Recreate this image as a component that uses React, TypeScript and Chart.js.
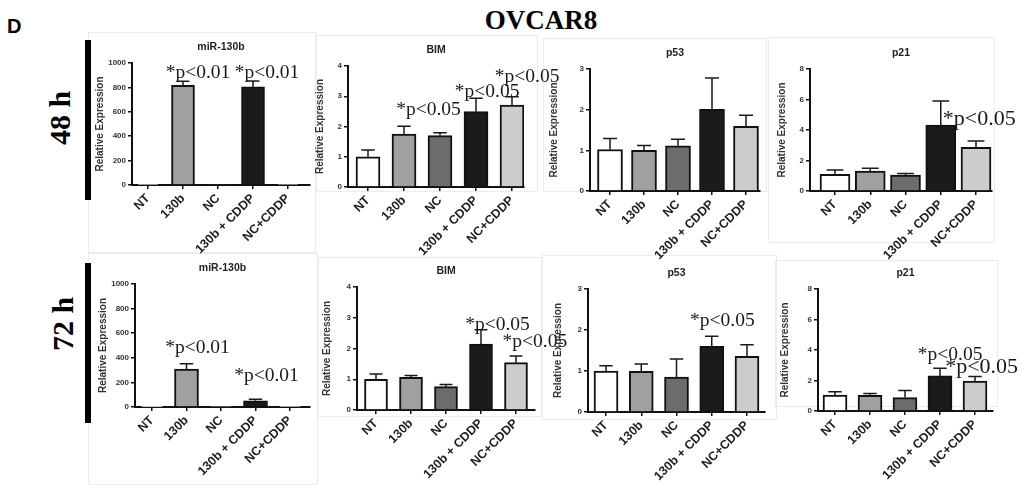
import React, { useEffect, useRef } from 'react';
import { Chart, registerables } from 'chart.js';

Chart.register(...registerables);

// ---------------- data ----------------
const categories = ['NT', '130b', 'NC', '130b + CDDP', 'NC+CDDP'];
const yAxisLabel = 'Relative Expression';
const figureLetter = 'D';
const figureTitle = 'OVCAR8';
const rowLabels = ['48 h', '72 h'];
const panelTitles = ['miR-130b', 'BIM', 'p53', 'p21', 'miR-130b', 'BIM', 'p53', 'p21'];

// 48 h
const mir48 = [2, 817, 6, 804, 2];
const mir48Err = [0, 33, 0, 49, 0];
const bim48 = [1.0, 1.75, 1.7, 2.49, 2.71];
const bim48Err = [0.22, 0.26, 0.09, 0.44, 0.27];
const p53h48 = [1.02, 1.0, 1.11, 2.01, 1.59];
const p53h48Err = [0.27, 0.12, 0.16, 0.77, 0.27];
const p21h48 = [1.09, 1.31, 1.05, 4.33, 2.86];
const p21h48Err = [0.29, 0.18, 0.09, 1.57, 0.42];
// 72 h
const mir72 = [1, 309, 1, 51, 1];
const mir72Err = [0, 43, 0, 11, 0];
const bim72 = [1.0, 1.06, 0.76, 2.14, 1.54];
const bim72Err = [0.17, 0.06, 0.07, 0.47, 0.22];
const p53h72 = [1.0, 0.99, 0.85, 1.6, 1.36];
const p53h72Err = [0.13, 0.18, 0.44, 0.25, 0.28];
const p21h72 = [1.05, 1.03, 0.88, 2.3, 1.97];
const p21h72Err = [0.22, 0.11, 0.46, 0.5, 0.29];

// significance notes (x in category units, y in data units of the panel)
type Note = { x: number; y: number; text: string; big?: boolean };
const mir48Notes: Note[] = [
  { x: 1.43, y: 880, text: '*p<0.01' },
  { x: 3.4, y: 880, text: '*p<0.01' },
];
const bim48Notes: Note[] = [
  { x: 1.68, y: 2.38, text: '*p<0.05' },
  { x: 3.31, y: 2.98, text: '*p<0.05' },
  { x: 4.42, y: 3.47, text: '*p<0.05' },
];
const p53h48Notes: Note[] = [];
const p21h48Notes: Note[] = [{ x: 4.09, y: 4.33, text: '*p<0.05', big: true }];
const mir72Notes: Note[] = [
  { x: 1.32, y: 441, text: '*p<0.01' },
  { x: 3.32, y: 208, text: '*p<0.01' },
];
const bim72Notes: Note[] = [
  { x: 3.47, y: 2.6, text: '*p<0.05' },
  { x: 4.54, y: 2.06, text: '*p<0.05' },
];
const p53h72Notes: Note[] = [{ x: 3.3, y: 2.1, text: '*p<0.05' }];
const p21h72Notes: Note[] = [
  { x: 3.29, y: 3.34, text: '*p<0.05' },
  { x: 4.19, y: 2.51, text: '*p<0.05', big: true },
];

const axisMax = [1000, 4, 3, 8, 1000, 4, 3, 8];
const axisStep = [200, 1, 1, 2, 200, 1, 1, 2];

// ---------------- styling / layout ----------------
const SANS = '"Liberation Sans", Arial, Helvetica, sans-serif';
const SERIF = '"Liberation Serif", "Times New Roman", Times, serif';
const barColors = ['#ffffff', '#a0a0a0', '#6c6c6c', '#1b1b1b', '#cccccc'];
const INK = '#111111';

type Geo = {
  axisX: number; right: number; yTop: number; yZero: number;
  first: number; spacing: number; barW: number; gap: number;
};
const geometry: Geo[] = [
  { axisX: 132, right: 310, yTop: 63, yZero: 185, first: 148, spacing: 35, barW: 23, gap: 32 },
  { axisX: 348, right: 524, yTop: 66, yZero: 187, first: 368, spacing: 36, barW: 24, gap: 28 },
  { axisX: 590, right: 760, yTop: 69, yZero: 191, first: 610, spacing: 34, barW: 25, gap: 36 },
  { axisX: 810, right: 992, yTop: 69, yZero: 191, first: 835, spacing: 35.25, barW: 30, gap: 28 },
  { axisX: 135, right: 310, yTop: 284, yZero: 407, first: 152, spacing: 34.5, barW: 24, gap: 32 },
  { axisX: 357, right: 535, yTop: 287, yZero: 410, first: 376, spacing: 35, barW: 23, gap: 30 },
  { axisX: 588, right: 765, yTop: 289, yZero: 412, first: 606, spacing: 35.25, barW: 24, gap: 30 },
  { axisX: 818, right: 993, yTop: 289, yZero: 411, first: 835, spacing: 35, barW: 24, gap: 33 },
];

const frames = [
  [88, 32, 316, 253], [316, 35, 538, 192], [543, 38, 767, 192], [768, 37, 995, 243],
  [88, 253, 318, 485], [318, 257, 542, 417], [542, 255, 777, 420], [775, 260, 998, 407],
];

const panelValues = [mir48, bim48, p53h48, p21h48, mir72, bim72, p53h72, p21h72];
const panelErrors = [mir48Err, bim48Err, p53h48Err, p21h48Err, mir72Err, bim72Err, p53h72Err, p21h72Err];
const panelNotes = [mir48Notes, bim48Notes, p53h48Notes, p21h48Notes, mir72Notes, bim72Notes, p53h72Notes, p21h72Notes];

const PAD_T = 50;
const PAD_R = 55;
const X_H = 80;
const TITLE_LH = 12;

function boxFor(g: Geo) {
  const yW = g.gap + TITLE_LH / 2;
  const left = Math.round(g.axisX - yW);
  const top = Math.round(g.yTop) - PAD_T;
  const width = Math.round(g.right) + PAD_R - left;
  const height = Math.round(g.yZero) + X_H - top;
  return { left, top, width, height };
}

function Panel({ idx }: { idx: number }) {
  const ref = useRef<HTMLCanvasElement>(null);
  const g = geometry[idx];
  const box = boxFor(g);
  useEffect(() => {
    if (!ref.current) return;
    const values = panelValues[idx];
    const errors = panelErrors[idx];
    const notes = panelNotes[idx];
    const title = panelTitles[idx];
    const yW = Math.round(g.axisX) - box.left;
    const padTop = Math.round(g.yTop) - box.top;
    const padRight = box.left + box.width - Math.round(g.right);
    const xH = box.top + box.height - Math.round(g.yZero);
    const last = g.first + 4 * g.spacing;
    const xMin = -(g.first - g.axisX) / g.spacing;
    const xMax = 4 + (g.right - last) / g.spacing;

    const decor = {
      id: 'decor' + idx,
      afterDatasetsDraw(chart: any) {
        const { ctx } = chart;
        const ys = chart.scales.y;
        const meta = chart.getDatasetMeta(0);
        ctx.save();
        ctx.strokeStyle = '#1a1a1a';
        ctx.lineWidth = 1.5;
        meta.data.forEach((el: any, i: number) => {
          const e = errors[i];
          if (!e) return;
          const yTopPx = ys.getPixelForValue(values[i] + e);
          const cap = g.barW * 0.28;
          ctx.beginPath();
          ctx.moveTo(el.x, el.y);
          ctx.lineTo(el.x, yTopPx);
          ctx.moveTo(el.x - cap, yTopPx);
          ctx.lineTo(el.x + cap, yTopPx);
          ctx.stroke();
        });
        ctx.restore();
      },
      afterDraw(chart: any) {
        const { ctx, chartArea } = chart;
        const xs = chart.scales.x;
        const ys = chart.scales.y;
        ctx.save();
        ctx.fillStyle = '#222';
        ctx.font = `bold 10.5px ${SANS}`;
        ctx.textAlign = 'center';
        ctx.textBaseline = 'middle';
        ctx.fillText(title, (chartArea.left + chartArea.right) / 2, chartArea.top - 16);
        ctx.textBaseline = 'alphabetic';
        ctx.fillStyle = '#1a1a1a';
        notes.forEach((n) => {
          ctx.font = `${n.big ? 22 : 19.5}px ${SERIF}`;
          ctx.fillText(n.text, xs.getPixelForValue(n.x), ys.getPixelForValue(n.y));
        });
        ctx.restore();
      },
    };

    const chart = new Chart(ref.current, {
      type: 'bar',
      data: {
        datasets: [
          {
            data: values.map((v, i) => ({ x: i, y: v })),
            backgroundColor: barColors,
            borderColor: INK,
            borderWidth: 2,
            barThickness: g.barW,
            borderSkipped: 'start',
          } as any,
        ],
      },
      options: {
        responsive: false,
        animation: false,
        devicePixelRatio: 1,
        layout: { padding: { top: padTop, right: padRight, left: 0, bottom: 0 } },
        plugins: { legend: { display: false }, tooltip: { enabled: false }, title: { display: false } },
        scales: {
          x: {
            type: 'linear',
            bounds: 'data',
            offset: false,
            min: xMin,
            max: xMax,
            afterBuildTicks: (s: any) => {
              s.ticks = categories.map((_, i) => ({ value: i }));
            },
            afterFit: (s: any) => {
              s.height = xH;
            },
            ticks: {
              autoSkip: false,
              minRotation: 45,
              maxRotation: 45,
              padding: 2,
              color: '#1e1e1e',
              font: { family: SANS, size: 12.5, weight: 'bold' },
              callback: (v: any) => categories[v] ?? '',
            },
            grid: {
              display: true, offset: false, drawOnChartArea: false, drawTicks: true,
              tickLength: 4, color: INK, lineWidth: 1.5,
            },
            border: { display: true, color: INK, width: 2 },
          },
          y: {
            min: 0,
            max: axisMax[idx],
            afterFit: (s: any) => {
              s.width = yW;
            },
            ticks: {
              stepSize: axisStep[idx],
              padding: 2,
              color: '#333',
              font: { family: SANS, size: 8, weight: 'bold' },
              callback: (v: any) => String(v),
            },
            grid: { display: true, drawOnChartArea: false, drawTicks: true, tickLength: 4, color: INK, lineWidth: 1.5 },
            border: { display: true, color: INK, width: 2 },
            title: {
              display: true,
              text: yAxisLabel,
              color: '#333',
              padding: 0,
              font: { family: SANS, size: 10, weight: 'bold', lineHeight: 1.2 },
            },
          },
        },
      } as any,
      plugins: [decor],
    });
    return () => chart.destroy();
  }, [idx]);

  return (
    <canvas
      ref={ref}
      width={box.width}
      height={box.height}
      style={{ position: 'absolute', left: box.left, top: box.top, width: box.width, height: box.height }}
    />
  );
}

export default function App() {
  return (
    <div
      style={{
        position: 'fixed', left: 0, top: 0, width: 1021, height: 485,
        overflow: 'hidden', background: '#ffffff',
      }}
    >
      {frames.map((f, i) => (
        <div
          key={'f' + i}
          style={{
            position: 'absolute', left: f[0], top: f[1], width: f[2] - f[0], height: f[3] - f[1],
            border: '1px solid #ececec', boxSizing: 'border-box',
          }}
        />
      ))}
      <div style={{ position: 'absolute', left: 7, top: 16, font: `bold 20px ${SANS}`, lineHeight: '20px', color: '#000' }}>
        {figureLetter}
      </div>
      <div
        style={{
          position: 'absolute', left: 541, top: 20, transform: 'translate(-50%, -50%)',
          font: `bold 27px ${SERIF}`, lineHeight: '27px', color: '#000', whiteSpace: 'nowrap',
        }}
      >
        {figureTitle}
      </div>
      {[117.5, 324].map((cy, i) => (
        <div
          key={'r' + i}
          style={{
            position: 'absolute', left: i === 0 ? 59.5 : 62.5, top: cy,
            transform: 'translate(-50%, -50%) rotate(-90deg)',
            font: `bold 30px ${SERIF}`, lineHeight: '30px', color: '#000', whiteSpace: 'nowrap',
          }}
        >
          {rowLabels[i]}
        </div>
      ))}
      <div style={{ position: 'absolute', left: 85, top: 40, width: 6, height: 160, background: '#000' }} />
      <div style={{ position: 'absolute', left: 85, top: 263, width: 6, height: 160, background: '#000' }} />
      {geometry.map((_, i) => (
        <Panel key={i} idx={i} />
      ))}
    </div>
  );
}
